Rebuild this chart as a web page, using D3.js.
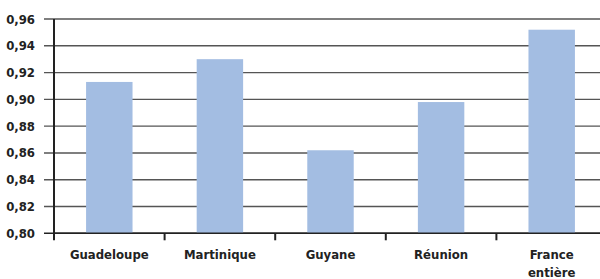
<!DOCTYPE html>
<html>
<head>
<meta charset="utf-8">
<script src="https://cdn.jsdelivr.net/npm/d3@7"></script>
<style>
  body { margin: 0; background: #fff; }
  svg text { font-family: "Liberation Sans Narrow", "DejaVu Sans Condensed", "Open Sans", sans-serif; font-weight: bold; fill: #222; }
</style>
</head>
<body>
<svg id="chart" width="600" height="279"></svg>
<script>
const categories = ['Guadeloupe', 'Martinique', 'Guyane', 'Réunion', 'France entière'];
const values = [0.913, 0.930, 0.862, 0.898, 0.952];
const yTicks = [0.80, 0.82, 0.84, 0.86, 0.88, 0.90, 0.92, 0.94, 0.96];

const svg = d3.select('#chart');
const plotL = 54, plotR = 607, plotT = 19, plotB = 233.3;

const x = d3.scaleBand().domain(categories).range([plotL, plotR]).paddingInner(0.58).paddingOuter(0.29);
const y = d3.scaleLinear().domain([0.80, 0.96]).range([plotB, plotT]);

// gridlines + y ticks
svg.append('g').selectAll('line').data(yTicks).join('line')
  .attr('x1', 44).attr('x2', 600)
  .attr('y1', d => y(d)).attr('y2', d => y(d))
  .attr('stroke', d => d === 0.80 ? '#222' : '#555')
  .attr('stroke-width', 1.4);

svg.append('g').selectAll('text').data(yTicks).join('text')
  .attr('x', 35).attr('y', d => y(d) + 4.5)
  .attr('text-anchor', 'end')
  .attr('font-size', 13)
  .text(d => d3.format('.2f')(d).replace('.', ','));

// bars
svg.append('g').selectAll('rect').data(categories).join('rect')
  .attr('x', d => x(d))
  .attr('width', x.bandwidth())
  .attr('y', (d, i) => y(values[i]))
  .attr('height', (d, i) => plotB - y(values[i]))
  .attr('fill', '#a3bde2');

// axis lines
svg.append('line').attr('x1', plotL).attr('x2', plotL).attr('y1', plotT).attr('y2', plotB + 7)
  .attr('stroke', '#222').attr('stroke-width', 2);
svg.append('line').attr('x1', plotL).attr('x2', 600).attr('y1', plotB).attr('y2', plotB)
  .attr('stroke', '#222').attr('stroke-width', 1.6);

// x ticks at band boundaries
const step = x.step();
const bounds = d3.range(1, categories.length).map(i => plotL + i * step);
svg.append('g').selectAll('line').data(bounds).join('line')
  .attr('x1', d => d).attr('x2', d => d)
  .attr('y1', plotB).attr('y2', plotB + 7)
  .attr('stroke', '#222').attr('stroke-width', 2);

// category labels
const lbl = svg.append('g').selectAll('text').data(categories).join('text')
  .attr('x', d => x(d) + x.bandwidth() / 2)
  .attr('y', 259)
  .attr('text-anchor', 'middle')
  .attr('font-size', 13);
lbl.each(function(d) {
  const t = d3.select(this);
  const parts = d === 'France entière' ? ['France', 'entière'] : [d];
  parts.forEach((p, i) => {
    t.append('tspan').attr('x', t.attr('x')).attr('dy', i === 0 ? 0 : 18).text(p);
  });
});
</script>
</body>
</html>
